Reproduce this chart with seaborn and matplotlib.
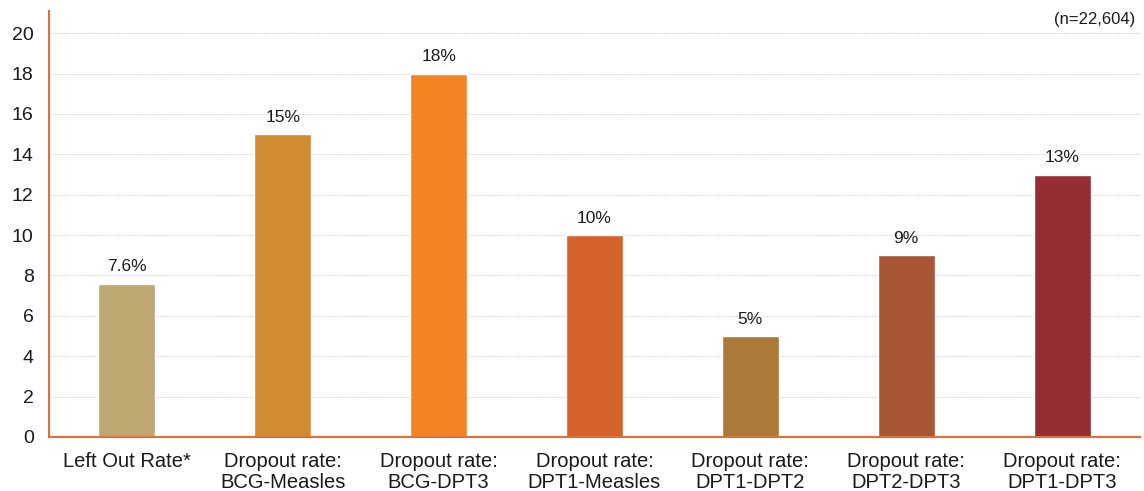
import matplotlib
matplotlib.use("Agg")
import matplotlib.pyplot as plt
import seaborn as sns
import pandas as pd

categories = [
    "Left Out Rate*",
    "Dropout rate:\nBCG-Measles",
    "Dropout rate:\nBCG-DPT3",
    "Dropout rate:\nDPT1-Measles",
    "Dropout rate:\nDPT1-DPT2",
    "Dropout rate:\nDPT2-DPT3",
    "Dropout rate:\nDPT1-DPT3",
]
values = [7.6, 15, 18, 10, 5, 9, 13]
value_labels = ["7.6%", "15%", "18%", "10%", "5%", "9%", "13%"]
colors = ["#BEA872", "#D08B30", "#F38424", "#D6622C", "#AB7A38", "#A85636", "#962D35"]
yticks = [0, 2, 4, 6, 8, 10, 12, 14, 16, 18, 20]

sns.set_theme(style="white")
plt.rcParams["font.family"] = ["Liberation Sans", "DejaVu Sans"]

df = pd.DataFrame({"cat": categories, "val": values})

fig = plt.figure(figsize=(11.44, 4.91), dpi=100)
ax = fig.add_axes([0.0428, 0.110, 0.9537, 0.8676])

sns.barplot(data=df, x="cat", y="val", hue="cat", palette=colors,
            width=0.365, legend=False, ax=ax, saturation=1)

for i, (v, lab) in enumerate(zip(values, value_labels)):
    ax.text(i, v + 0.45, lab, ha="center", va="bottom", fontsize=12.5, color="#1a1a1a")

ax.set_ylim(0, 21.1)
ax.set_xlim(-0.5, 6.5)
ax.set_yticks(yticks)
ax.yaxis.grid(True, linestyle=(0, (1.5, 1)), color="#dadada", linewidth=0.8)
ax.set_axisbelow(True)
ax.set_xlabel("")
ax.set_ylabel("")
ax.tick_params(axis="y", labelsize=14, length=0, pad=11, colors="#1a1a1a")
ax.tick_params(axis="x", labelsize=14.5, length=0, pad=11, colors="#1a1a1a")
for lab in ax.get_xticklabels():
    lab.set_linespacing(1.1)

for s in ["top", "right"]:
    ax.spines[s].set_visible(False)
for s in ["left", "bottom"]:
    ax.spines[s].set_color("#E07035")
    ax.spines[s].set_linewidth(1.5)

ax.text(0.996, 0.997, "(n=22,604)", transform=ax.transAxes, ha="right", va="top",
        fontsize=12, color="#1a1a1a")

fig.savefig("out.png", dpi=100)
